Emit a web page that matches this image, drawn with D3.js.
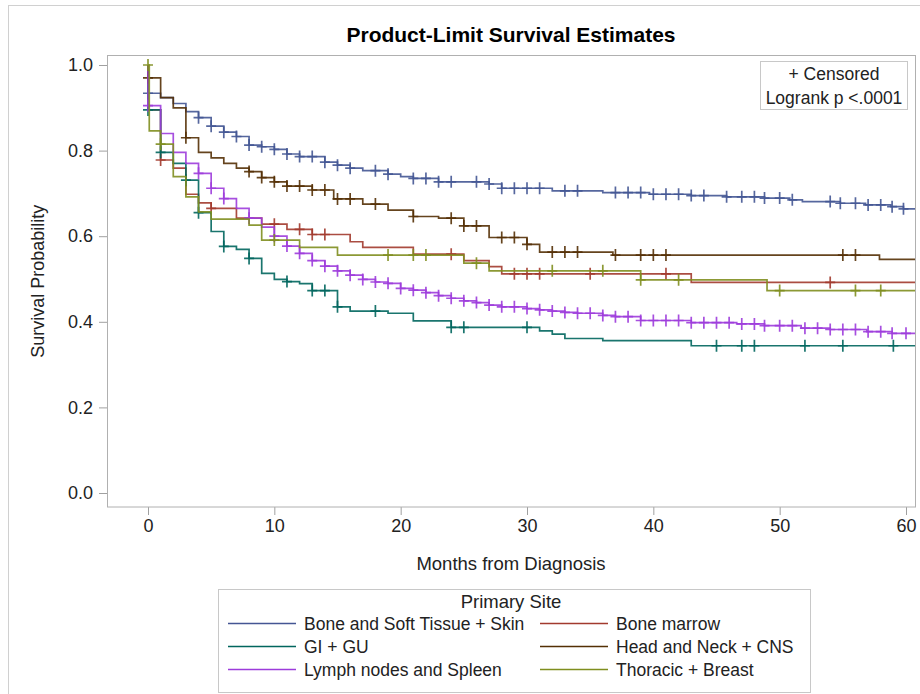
<!DOCTYPE html>
<html>
<head>
<meta charset="utf-8">
<script src="https://cdn.jsdelivr.net/npm/d3@7"></script>
<style>
  html, body { margin: 0; padding: 0; background: #fff; }
  svg text { font-family: "Liberation Sans", Arial, sans-serif; fill: #222; }
</style>
</head>
<body>
<div id="chart"></div>
<script>
// Kaplan-Meier curves by primary site

// legend order / draw order
const groups = [
  'Bone and Soft Tissue + Skin',
  'Bone marrow',
  'GI + GU',
  'Head and Neck + CNS',
  'Lymph nodes and Spleen',
  'Thoracic + Breast',
];
const colors = ['#445694', '#A23A2E', '#01665E', '#543005', '#9D3CDB', '#7F8E1F'];

// step times (months) and survival after each step
const boneSoftTimes = [0, 1, 2, 3, 4, 5, 6, 7, 8, 9, 10, 11, 12, 14, 15, 16, 17, 19, 20, 21, 23, 27, 28, 32, 36, 39.7, 43, 45.8, 48.8, 50.8, 51.8, 54.8, 56.8, 58.8, 59.8];
const boneSoftSurv = [0.934, 0.924, 0.910, 0.891, 0.877, 0.857, 0.843, 0.833, 0.813, 0.809, 0.803, 0.792, 0.786, 0.773, 0.766, 0.759, 0.753, 0.745, 0.739, 0.735, 0.727, 0.722, 0.712, 0.706, 0.702, 0.698, 0.695, 0.692, 0.689, 0.685, 0.681, 0.677, 0.673, 0.669, 0.664];
const boneSoftCens = [0, 4, 5, 6, 7, 8, 9, 10, 11, 12, 13, 14, 15, 16, 18, 19, 21, 22, 23, 24, 26, 27, 28, 29, 30, 31, 33, 34, 37, 38, 39, 40, 41, 42, 43, 44, 45.8, 47, 48, 48.8, 50, 51, 54, 54.8, 56, 57, 58, 58.9, 59.8];

const marrowTimes = [0, 1, 2, 3, 4, 5, 7, 9, 11, 13, 16, 17, 21, 25, 27, 28, 43];
const marrowSurv = [0.895, 0.778, 0.759, 0.698, 0.678, 0.665, 0.642, 0.628, 0.616, 0.604, 0.587, 0.574, 0.558, 0.543, 0.529, 0.512, 0.492];
const marrowCens = [1, 5, 10, 12, 13, 14, 24, 29, 30, 31, 35, 41, 54];

const giTimes = [0, 1, 2, 3, 4, 5, 6, 7, 8, 9, 10, 11, 12, 13, 15, 16, 19, 21, 24, 31, 32, 33, 36, 43];
const giSurv = [0.895, 0.796, 0.770, 0.731, 0.655, 0.611, 0.576, 0.569, 0.548, 0.513, 0.499, 0.494, 0.489, 0.473, 0.435, 0.425, 0.420, 0.402, 0.387, 0.379, 0.371, 0.361, 0.356, 0.344];
const giCens = [0, 1, 3, 4, 6, 8, 11, 13, 14, 15, 18, 24, 25, 30, 45, 47, 48, 52, 55, 59];

const headTimes = [0, 1, 2, 3, 4, 5, 6, 7, 8, 9, 10, 11, 13, 14.7, 17, 19, 21, 23, 25, 27, 30, 31, 36.8, 57.9];
const headSurv = [0.970, 0.924, 0.900, 0.830, 0.796, 0.783, 0.770, 0.759, 0.751, 0.737, 0.727, 0.717, 0.708, 0.687, 0.675, 0.661, 0.646, 0.642, 0.624, 0.597, 0.581, 0.563, 0.556, 0.546];
const headCens = [0, 3, 8, 9, 10, 11, 12, 13, 14, 15, 16, 18, 21, 24, 25, 26, 28, 29, 30, 32, 33, 34, 37, 39, 40, 41, 55, 56];

const lymphTimes = [0, 1, 2, 3, 4, 5, 6, 7, 8, 9, 10, 11, 12, 13, 14, 15, 16, 17, 18, 19, 20, 21, 22, 23, 24, 25, 26, 27, 28, 30, 31, 32, 33, 34, 36, 37, 39, 43, 46.6, 48.8, 51.7, 54, 56.9, 58.9];
const lymphSurv = [0.905, 0.840, 0.796, 0.770, 0.747, 0.712, 0.688, 0.665, 0.642, 0.621, 0.600, 0.577, 0.560, 0.543, 0.530, 0.519, 0.509, 0.499, 0.493, 0.490, 0.478, 0.474, 0.468, 0.461, 0.455, 0.449, 0.445, 0.439, 0.435, 0.431, 0.428, 0.425, 0.422, 0.420, 0.415, 0.412, 0.403, 0.398, 0.395, 0.391, 0.385, 0.382, 0.377, 0.373];
const lymphCens = [0, 4, 5, 6, 8, 10, 11, 12, 13, 14, 15, 16, 17, 18, 19, 20, 21, 22, 23, 24, 25, 26, 27, 28, 29, 30, 31, 32, 33, 34, 35, 36, 37, 38, 39, 40, 41, 42, 43, 44, 45, 46, 47, 48, 48.8, 50, 51, 52, 53, 54, 55, 56, 57, 58, 58.9, 60];

const thoracicTimes = [0.1, 1, 2, 3, 4, 5, 8, 9, 12, 15, 25, 27, 39, 49];
const thoracicSurv = [0.846, 0.815, 0.739, 0.692, 0.657, 0.640, 0.626, 0.591, 0.574, 0.556, 0.537, 0.519, 0.498, 0.473];
const thoracicCens = [0, 1, 10, 19, 21, 22, 26, 32, 36, 39, 42, 50, 56, 58];

const xTicks = [0, 10, 20, 30, 40, 50, 60];
const yTicks = [0, 0.2, 0.4, 0.6, 0.8, 1.0];
const followUpEnd = 61;

const series = [
  { times: boneSoftTimes, surv: boneSoftSurv, cens: boneSoftCens },
  { times: marrowTimes, surv: marrowSurv, cens: marrowCens },
  { times: giTimes, surv: giSurv, cens: giCens },
  { times: headTimes, surv: headSurv, cens: headCens },
  { times: lymphTimes, surv: lymphSurv, cens: lymphCens },
  { times: thoracicTimes, surv: thoracicSurv, cens: thoracicCens },
].map((s, i) => ({ ...s, name: groups[i], color: colors[i] }));

const W = 920;
const H = 694;
const frame = { left: 107, top: 55.5, right: 915, bottom: 507 };

const svg = d3.select('#chart')
  .append('svg')
  .attr('width', W)
  .attr('height', H);

// outer border of the graph
svg.append('rect')
  .attr('x', 8.5).attr('y', 5.5)
  .attr('width', 1000).attr('height', 1000)
  .attr('fill', 'none')
  .attr('stroke', '#d0d0d0');

const x = d3.scaleLinear().domain([0, 60]).range([148, 906]);
const y = d3.scaleLinear().domain([0, 1]).range([493, 65]);

svg.append('text')
  .attr('x', (frame.left + frame.right) / 2)
  .attr('y', 42)
  .attr('text-anchor', 'middle')
  .style('font-size', '21px')
  .style('font-weight', 'bold')
  .style('fill', '#000')
  .text('Product-Limit Survival Estimates');

// axes
const xAxis = svg.append('g')
  .attr('transform', `translate(0,${frame.bottom})`)
  .call(d3.axisBottom(x).tickValues(xTicks).tickSize(8).tickSizeOuter(0).tickPadding(4));
xAxis.select('.domain').remove();

const yAxis = svg.append('g')
  .attr('transform', `translate(${frame.left},0)`)
  .call(d3.axisLeft(y).tickValues(yTicks).tickFormat(d3.format('.1f')).tickSize(8).tickSizeOuter(0).tickPadding(6));
yAxis.select('.domain').remove();

svg.selectAll('.tick line').attr('stroke', '#a0a0a0');
svg.selectAll('.tick text').style('font-size', '18px').style('fill', '#222');

svg.append('text')
  .attr('x', (frame.left + frame.right) / 2)
  .attr('y', 570)
  .attr('text-anchor', 'middle')
  .style('font-size', '18.5px')
  .text('Months from Diagnosis');

svg.append('text')
  .attr('transform', `translate(44,${(frame.top + frame.bottom) / 2}) rotate(-90)`)
  .attr('text-anchor', 'middle')
  .style('font-size', '18px')
  .text('Survival Probability');

svg.append('clipPath')
  .attr('id', 'plot-clip')
  .append('rect')
  .attr('x', frame.left)
  .attr('y', frame.top)
  .attr('width', frame.right - frame.left)
  .attr('height', frame.bottom - frame.top);

const plot = svg.append('g').attr('clip-path', 'url(#plot-clip)');

const line = d3.line()
  .x(d => x(d[0]))
  .y(d => y(d[1]))
  .curve(d3.curveStepAfter);

const survAt = (s, t) => {
  let v = 1;
  s.times.forEach((tt, i) => {
    if (tt <= t) v = s.surv[i];
  });
  return v;
};

series.forEach((s) => {
  const pts = [[0, 1]].concat(s.times.map((t, i) => [t, s.surv[i]]));
  pts.push([followUpEnd, s.surv[s.surv.length - 1]]);

  plot.append('path')
    .datum(pts)
    .attr('d', line)
    .attr('fill', 'none')
    .attr('stroke', s.color)
    .attr('stroke-width', 1.7)
    .attr('stroke-opacity', 0.9);

  // censor marks "+"
  plot.selectAll(null)
    .data(s.cens)
    .enter()
    .append('path')
    .attr('d', t => {
      const cx = x(t);
      const cy = y(survAt(s, t));
      return `M${cx - 5},${cy}H${cx + 5}M${cx},${cy - 6}V${cy + 6}`;
    })
    .attr('fill', 'none')
    .attr('stroke', s.color)
    .attr('stroke-width', 1.7)
    .attr('stroke-opacity', 0.9);
});

// plot frame
svg.append('rect')
  .attr('x', frame.left + 0.5)
  .attr('y', frame.top)
  .attr('width', frame.right - frame.left)
  .attr('height', frame.bottom - frame.top)
  .attr('fill', 'none')
  .attr('stroke', '#b0b0b0');

// inset box
const inset = svg.append('g');
inset.append('rect')
  .attr('x', 760.5).attr('y', 61.5)
  .attr('width', 147).attr('height', 48)
  .attr('fill', '#fff')
  .attr('stroke', '#c8c8c8');
inset.append('text')
  .attr('x', 834).attr('y', 80)
  .attr('text-anchor', 'middle')
  .style('font-size', '17.5px')
  .text('+ Censored');
inset.append('text')
  .attr('x', 834).attr('y', 104)
  .attr('text-anchor', 'middle')
  .style('font-size', '17.5px')
  .text('Logrank p <.0001');

// legend
const legend = svg.append('g');
legend.append('rect')
  .attr('x', 218.5).attr('y', 589.5)
  .attr('width', 592).attr('height', 103)
  .attr('fill', '#fff')
  .attr('stroke', '#c8c8c8');
legend.append('text')
  .attr('x', 511).attr('y', 608)
  .attr('text-anchor', 'middle')
  .style('font-size', '18.5px')
  .text('Primary Site');

const colX = [228, 540];
const rowY = [623, 646, 669];
series.forEach((s, i) => {
  const col = i % 2;
  const row = Math.floor(i / 2);
  const g = legend.append('g')
    .attr('transform', `translate(${colX[col]},${rowY[row]})`);
  g.append('line')
    .attr('x1', 0).attr('x2', 68)
    .attr('y1', 0.5).attr('y2', 0.5)
    .attr('stroke', s.color)
    .attr('stroke-width', 1.5);
  g.append('text')
    .attr('x', 76).attr('y', 6.5)
    .style('font-size', '17.5px')
    .text(s.name);
});
</script>
</body>
</html>
